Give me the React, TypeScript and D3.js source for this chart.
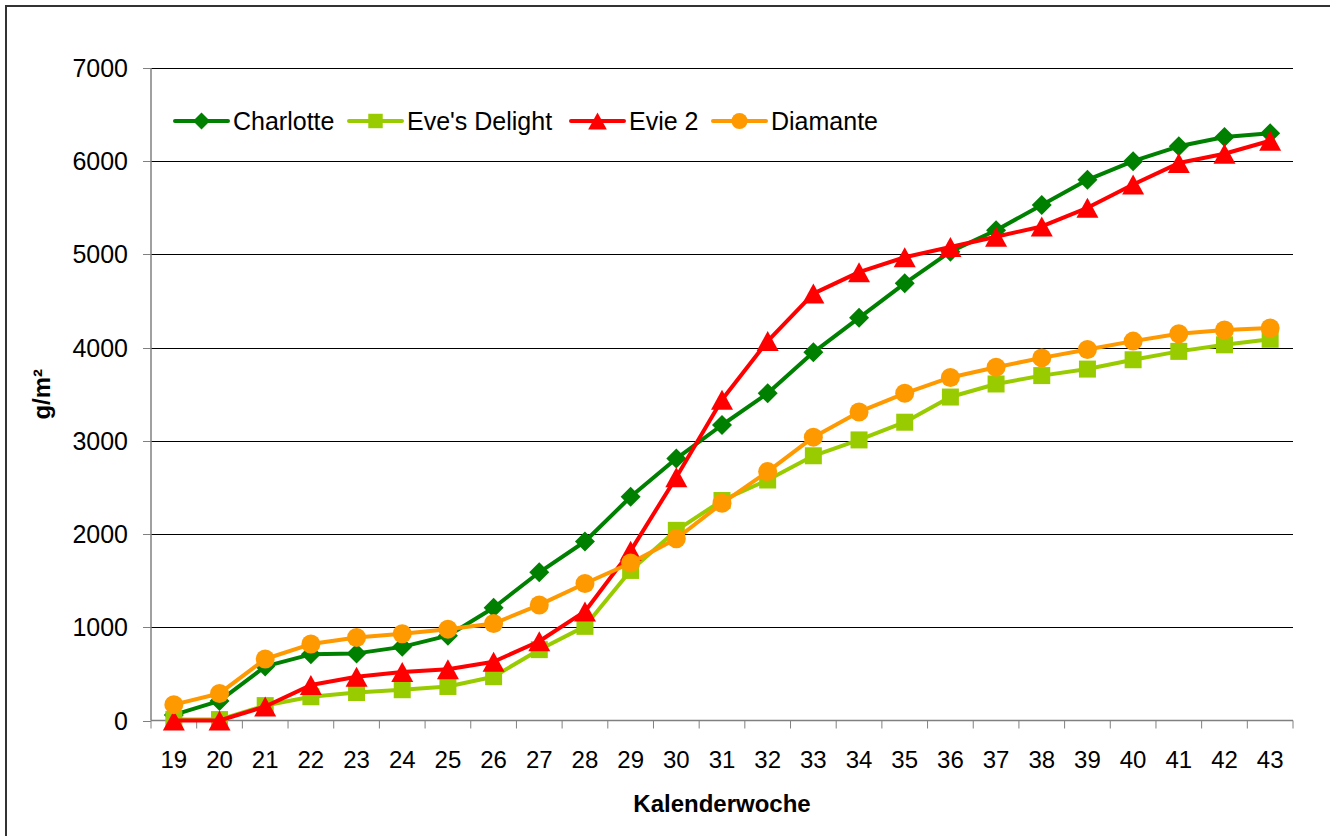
import * as d3 from 'd3'

const weeks = ['19', '20', '21', '22', '23', '24', '25', '26', '27', '28', '29', '30', '31',
  '32', '33', '34', '35', '36', '37', '38', '39', '40', '41', '42', '43']

const charlotte = [60, 210, 580, 710, 720, 790, 910, 1210, 1590, 1920, 2400, 2810, 3170,
  3510, 3950, 4320, 4690, 5030, 5260, 5530, 5800, 6000, 6160, 6260, 6300]
const evesDelight = [10, 10, 160, 255, 300, 330, 365, 470, 760, 1010, 1610, 2040, 2360,
  2580, 2840, 3010, 3200, 3470, 3610, 3700, 3770, 3870, 3960, 4030, 4090]
const evie2 = [0, 0, 150, 380, 470, 520, 550, 630, 850, 1170, 1820, 2610, 3440,
  4070, 4580, 4810, 4970, 5080, 5190, 5300, 5500, 5750, 5980, 6080, 6220]
const diamante = [170, 290, 660, 820, 890, 930, 980, 1040, 1240, 1470, 1690, 1950, 2330,
  2670, 3040, 3310, 3510, 3680, 3790, 3890, 3980, 4070, 4150, 4190, 4210]

const yTicks = [0, 1000, 2000, 3000, 4000, 5000, 6000, 7000]

type Shape = 'diamond' | 'square' | 'triangle' | 'circle'

const series: { name: string; values: number[]; color: string; shape: Shape }[] = [
  { name: 'Charlotte', values: charlotte, color: '#008000', shape: 'diamond' },
  { name: "Eve's Delight", values: evesDelight, color: '#99CC00', shape: 'square' },
  { name: 'Evie 2', values: evie2, color: '#FF0000', shape: 'triangle' },
  { name: 'Diamante', values: diamante, color: '#FF9900', shape: 'circle' },
]

const legendX = [175, 349, 571, 713]

const W = 1330
const H = 836
const plot = { left: 151, right: 1293, top: 68, bottom: 720.5 }
const font = 'Arial, "Liberation Sans", sans-serif'

function Marker({ shape, x, y, color, s = 1 }: { shape: Shape; x: number; y: number; color: string; s?: number }) {
  if (shape === 'diamond') {
    const r = 10 * s
    return <path d={`M${x},${y - r}L${x + r},${y}L${x},${y + r}L${x - r},${y}Z`} fill={color} />
  }
  if (shape === 'square') {
    const h = 8.5 * s
    return <rect x={x - h} y={y - h} width={h * 2} height={h * 2} fill={color} />
  }
  if (shape === 'triangle') {
    const w = 11 * s
    const h = 10 * s
    return <path d={`M${x},${y - h}L${x + w},${y + h}L${x - w},${y + h}Z`} fill={color} />
  }
  return <circle cx={x} cy={y} r={9.5 * s} fill={color} />
}

export default function App() {
  const x = d3.scaleBand<string>().domain(weeks).range([plot.left, plot.right])
  const y = d3.scaleLinear().domain([0, 7000]).range([plot.bottom, plot.top])
  const cx = (w: string) => (x(w) ?? 0) + x.bandwidth() / 2

  const line = d3.line<number>()
    .x((_, i) => cx(weeks[i]))
    .y((d) => y(d))

  const tickXs = weeks.map((w) => x(w) ?? 0).concat([plot.right])

  return (
    <svg width={W} height={H} style={{ position: 'absolute', left: 0, top: 0, background: '#fff' }}>
      <rect x={6} y={6} width={W + 20} height={H + 20} fill="#fff" stroke="#333" strokeWidth={2} />

      {/* gridlines */}
      {yTicks.filter((t) => t > 0).map((t) => (
        <line key={t} x1={plot.left} x2={plot.right} y1={Math.round(y(t)) + 0.5} y2={Math.round(y(t)) + 0.5}
          stroke="#000" strokeWidth={1} />
      ))}

      {/* axes */}
      <line x1={plot.left} x2={plot.left} y1={plot.top} y2={plot.bottom} stroke="#808080" strokeWidth={1.5} />
      <line x1={plot.left} x2={plot.right} y1={plot.bottom} y2={plot.bottom} stroke="#808080" strokeWidth={1.5} />
      {yTicks.map((t) => (
        <g key={t}>
          <line x1={143} x2={plot.left} y1={Math.round(y(t)) + 0.5} y2={Math.round(y(t)) + 0.5} stroke="#808080" strokeWidth={1} />
          <text x={128} y={y(t) + 9} textAnchor="end" fontFamily={font} fontSize={25} fill="#000">{t}</text>
        </g>
      ))}
      {tickXs.map((tx, i) => (
        <line key={i} x1={tx} x2={tx} y1={plot.bottom} y2={plot.bottom + 8} stroke="#808080" strokeWidth={1} />
      ))}
      {weeks.map((w) => (
        <text key={w} x={cx(w)} y={768} textAnchor="middle" fontFamily={font} fontSize={24} fill="#000">{w}</text>
      ))}

      <text x={722} y={812} textAnchor="middle" fontFamily={font} fontSize={24} fontWeight="bold" fill="#000">Kalenderwoche</text>
      <text transform={`translate(50,${(plot.top + plot.bottom) / 2}) rotate(-90)`} textAnchor="middle"
        fontFamily={font} fontSize={24} fontWeight="bold" fill="#000">g/m²</text>

      {/* series */}
      {series.map((s) => (
        <g key={s.name}>
          <path d={line(s.values) ?? ''} fill="none" stroke={s.color} strokeWidth={4} strokeLinejoin="round" />
          {s.values.map((v, i) => (
            <Marker key={i} shape={s.shape} x={cx(weeks[i])} y={y(v)} color={s.color} />
          ))}
        </g>
      ))}

      {/* legend */}
      {series.map((s, i) => {
        const lx = legendX[i]
        const ly = 121
        return (
          <g key={s.name}>
            <line x1={lx} x2={lx + 53} y1={ly} y2={ly} stroke={s.color} strokeWidth={4} strokeLinecap="round" />
            <Marker shape={s.shape} x={lx + 26.5} y={ly} color={s.color} s={0.85} />
            <text x={lx + 58} y={ly + 9} fontFamily={font} fontSize={25} fill="#000">{s.name}</text>
          </g>
        )
      })}
    </svg>
  )
}
